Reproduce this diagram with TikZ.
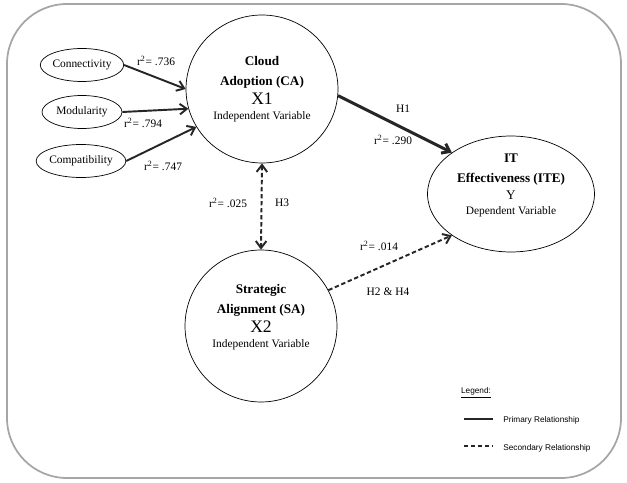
\documentclass[tikz,border=0pt]{standalone}
\usepackage{fontspec}
\setmainfont{Liberation Serif}
\newfontfamily\legendfont{Liberation Sans}
\usetikzlibrary{shapes.geometric,arrows.meta}

\tikzset{
    factor/.style={draw, ellipse, minimum width=1.6cm, minimum height=0.66cm, inner sep=0pt, font=\fontsize{6.5}{7}\selectfont},
    construct/.style={draw, ellipse, inner sep=0pt, align=center, font=\fontsize{7.5}{11.5}\selectfont},
    rlabel/.style={font=\fontsize{6.5}{7}\selectfont, inner sep=1pt},
    primary/.style={-{Straight Barb[length=4pt,width=6pt]}, line width=1.1pt, draw=black!85},
    secondary/.style={primary, dash pattern=on 2.5pt off 1.5pt},
    legendtext/.style={font=\legendfont\fontsize{4.7}{5}\selectfont, inner sep=0pt},
}
\newcommand{\rsq}[1]{r\textsuperscript{2}= #1}

\begin{document}
\begin{tikzpicture}[x=0.02cm, y=-0.02cm]
    \useasboundingbox (0,0) rectangle (627,483);

    % outer frame
    \draw[gray!70, line width=1pt, rounded corners=1.2cm] (7,4) rectangle (621,478);

    % measured factors
    \node[factor] (conn) at (82,65) {Connectivity};
    \node[factor] (modu) at (82,112) {Modularity};
    \node[factor] (comp) at (81,161) {Compatibility};

    % constructs
    \node[construct, minimum width=3.04cm, minimum height=2.96cm] (ca) at (262,89)
        {\textbf{Cloud}\\\textbf{Adoption (CA)}\\[-1pt]{\fontsize{10}{10}\selectfont X1}\\[-3pt]{\fontsize{6.5}{7}\selectfont Independent Variable}};
    \node[construct, minimum width=3.04cm, minimum height=3.04cm] (sa) at (261,326)
        {\textbf{Strategic}\\\textbf{Alignment (SA)}\\[-1pt]{\fontsize{10}{10}\selectfont X2}\\[-3pt]{\fontsize{6.5}{7}\selectfont Independent Variable}\rule[-0.4cm]{0pt}{0pt}};
    \node[construct, minimum width=3.34cm, minimum height=2.32cm] (ite) at (511,194)
        {\textbf{IT}\\\textbf{Effectiveness (ITE)}\\[-2pt]{\fontsize{7.5}{8}\selectfont Y}\\[-3pt]{\fontsize{6.5}{7}\selectfont Dependent Variable}\rule[-0.4cm]{0pt}{0pt}};

    % paths
    \draw[primary] (conn.east) -- (ca.180);
    \draw[primary] (modu.east) -- (ca.195);
    \draw[primary] (comp.east) -- (ca.210);
    \draw[primary, line width=1.7pt] (ca.355) -- (ite.145);
    \draw[secondary, {Straight Barb[length=4pt,width=6pt]}-{Straight Barb[length=4pt,width=6pt]}] (ca.south) -- (sa.north);
    \draw[secondary] (sa.28) -- (ite.215);

    % path labels
    \node[rlabel] (r736) at (156,61) {\rsq{.736}};
    \node[rlabel] (r794) at (143,123) {\rsq{.794}};
    \node[rlabel] (r747) at (163,166) {\rsq{.747}};
    \node[rlabel] (h1) at (403,109) {H1};
    \node[rlabel] (r290) at (393,140) {\rsq{.290}};
    \node[rlabel] (r025) at (228,203) {\rsq{.025}};
    \node[rlabel] (h3) at (282,203) {H3};
    \node[rlabel] (r014) at (379,246) {\rsq{.014}};
    \node[rlabel] (h24) at (388,292) {H2 \& H4};

    % legend
    \node[legendtext] (leg) at (476,393) {\underline{Legend:}};
    \coordinate (pa) at (464,419);
    \coordinate (pb) at (493,419);
    \coordinate (sa1) at (464,446);
    \coordinate (sb) at (493,446);
    \draw[line width=1.1pt, draw=black!85] (pa) -- (pb);
    \draw[line width=1.1pt, draw=black!85, dash pattern=on 2.5pt off 1.5pt] (sa1) -- (sb);
    \node[legendtext, anchor=west] (prim) at (503,420) {Primary Relationship};
    \node[legendtext, anchor=west] (sec) at (503,448) {Secondary Relationship};
\end{tikzpicture}
\end{document}
